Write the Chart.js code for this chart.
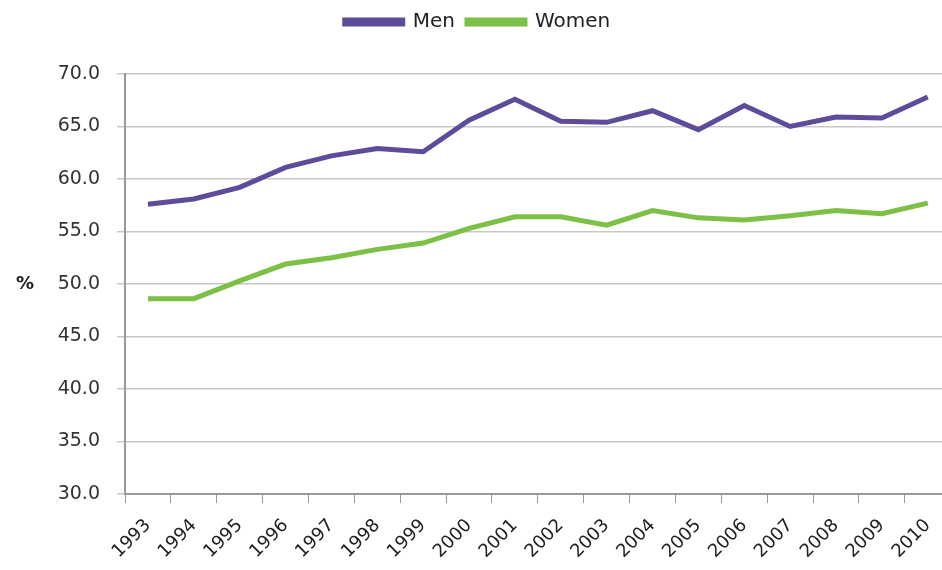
<!DOCTYPE html>
<html>
<head>
<meta charset="utf-8">
<script src="https://cdn.jsdelivr.net/npm/chart.js@4/dist/chart.umd.min.js"></script>
<style>
  html, body { margin: 0; padding: 0; background: #fff; overflow: hidden; }
  #wrap { width: 955px; height: 570px; }
</style>
</head>
<body>
<div id="wrap"><canvas id="chart" width="955" height="570"></canvas></div>
<script>
const years = ["1993", "1994", "1995", "1996", "1997", "1998", "1999", "2000", "2001",
  "2002", "2003", "2004", "2005", "2006", "2007", "2008", "2009", "2010"];
const men = [57.6, 58.1, 59.2, 61.1, 62.2, 62.9, 62.6, 65.6, 67.6,
  65.5, 65.4, 66.5, 64.7, 67.0, 65.0, 65.9, 65.8, 67.8];
const women = [48.6, 48.6, 50.3, 51.9, 52.5, 53.3, 53.9, 55.3, 56.4,
  56.4, 55.6, 57.0, 56.3, 56.1, 56.5, 57.0, 56.7, 57.7];

const menColor = "#5e4b9a";
const womenColor = "#7cc046";
const fontFamily = "'DejaVu Sans', Verdana, sans-serif";

// leave a gap under the legend, like the original
const legendGap = {
  id: "legendGap",
  beforeInit(chart) {
    const fit = chart.legend.fit;
    chart.legend.fit = function () {
      fit.bind(chart.legend)();
      this.height += 32;
    };
  }
};

const percentLabel = {
  id: "percentLabel",
  afterDraw(chart) {
    const { ctx, chartArea } = chart;
    ctx.save();
    ctx.font = `bold 18px ${fontFamily}`;
    ctx.fillStyle = "#222";
    ctx.textAlign = "center";
    ctx.textBaseline = "middle";
    ctx.fillText("%", 25, (chartArea.top + chartArea.bottom) / 2);
    ctx.restore();
  }
};

new Chart(document.querySelector("#chart"), {
  type: "line",
  data: {
    labels: years,
    datasets: [
      {
        label: "Men",
        data: men,
        borderColor: menColor,
        backgroundColor: menColor,
        borderWidth: 5,
        pointRadius: 0,
        tension: 0
      },
      {
        label: "Women",
        data: women,
        borderColor: womenColor,
        backgroundColor: womenColor,
        borderWidth: 5,
        pointRadius: 0,
        tension: 0
      }
    ]
  },
  options: {
    responsive: false,
    animation: false,
    layout: { padding: 0 },
    plugins: {
      tooltip: { enabled: false },
      legend: {
        position: "top",
        labels: {
          color: "#222",
          font: { family: fontFamily, size: 20 },
          boxWidth: 58,
          boxHeight: 4,
          padding: 12
        }
      }
    },
    scales: {
      x: {
        offset: true,
        grid: {
          offset: true,
          drawOnChartArea: false,
          tickLength: 9,
          color: "#999"
        },
        border: { color: "#999", width: 2 },
        ticks: {
          color: "#222",
          font: { family: fontFamily, size: 18 },
          maxRotation: 45,
          minRotation: 45,
          autoSkip: false,
          padding: 12
        },
        afterFit(scale) { scale.height = 76; }
      },
      y: {
        min: 30,
        max: 70,
        grid: {
          color: "#c8c8c8",
          tickLength: 8,
          lineWidth: 1.5
        },
        border: { color: "#999", width: 2 },
        ticks: {
          stepSize: 5,
          color: "#333",
          font: { family: fontFamily, size: 19 },
          padding: 17,
          callback: (value) => value.toFixed(1)
        },
        afterFit(scale) { scale.width = 125; }
      }
    }
  },
  plugins: [legendGap, percentLabel]
});
</script>
</body>
</html>
